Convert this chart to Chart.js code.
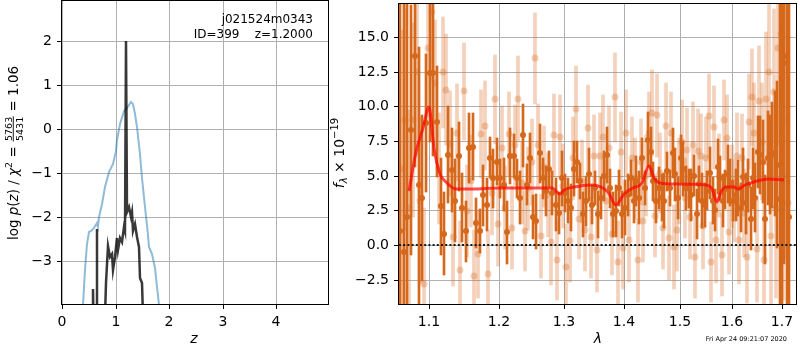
<!DOCTYPE html>
<html>
<head>
<meta charset="utf-8">
<script src="https://cdn.jsdelivr.net/npm/chart.js@4.4.0/dist/chart.umd.min.js"></script>
<style>
body { margin: 0; background: #fff; width: 800px; height: 350px; overflow: hidden; position: relative; }
#left { position: absolute; left: 0; top: 0; }
#right { position: absolute; left: 330px; top: 0; }
</style>
</head>
<body>
<canvas id="left" width="330" height="350"></canvas>
<canvas id="right" width="470" height="350"></canvas>
<script>
// ---- left panel: redshift PDF ----
const zTicks = [0, 1, 2, 3, 4];
const pTicks = [-3, -2, -1, 0, 1, 2];
const zRange = [0, 4.97];
const pRange = [-3.97, 2.92];

const blueZ = [0.36, 0.39, 0.43, 0.47, 0.50, 0.55, 0.59, 0.65, 0.667, 0.70,
  0.74, 0.80, 0.87, 0.96, 1.0, 1.02, 1.08, 1.15, 1.21, 1.25,
  1.29, 1.32, 1.36, 1.40, 1.46, 1.50, 1.55, 1.60, 1.63, 1.69,
  1.73, 1.77, 1.81, 1.84];
const blueP = [-5, -4.0, -3.2, -2.6, -2.33, -2.3, -2.24, -2.13, -2.22, -2.0,
  -1.69, -1.31, -0.97, -0.78, -0.5, -0.25, 0.13, 0.43, 0.49, 0.55,
  0.62, 0.57, 0.35, 0.05, -0.55, -1.1, -1.77, -2.4, -2.67, -2.83,
  -3.15, -3.58, -4.0, -5];

const blackZ = [0.565, 0.575, 0.585, 0.595, 0.645, 0.654, 0.662, 0.79, 0.83, 0.866,
  0.897, 0.935, 0.96, 0.99, 1.03, 1.05, 1.08, 1.12, 1.15, 1.175,
  1.195, 1.212, 1.25, 1.28, 1.31, 1.33, 1.36, 1.40, 1.43, 1.46,
  1.495, 1.53];
const blackP = [-5, -5, -3.62, -5, -5, -2.26, -5, -5, -3.5, -2.64,
  -2.9, -2.83, -3.2, -2.9, -2.48, -2.75, -2.48, -2.56, -2.22, -2.3,
  2.0, -1.88, -1.77, -1.99, -1.88, -2.3, -2.14, -2.45, -2.67, -3.39,
  -3.5, -5];

const fieldName = 'j021524m0343';
const idLine = 'ID=399    z=1.2000';

// ---- right panel: spectrum ----
const lamTicks = [1.1, 1.2, 1.3, 1.4, 1.5, 1.6, 1.7];
const lamRange = [1.06, 1.7305];
const fluxRange = [-4.26, 17.38];

const darkWave = [1.061, 1.066, 1.071, 1.076, 1.081, 1.086, 1.091, 1.096, 1.101, 1.106,
  1.111, 1.116, 1.121, 1.126, 1.131, 1.136, 1.141, 1.146, 1.151, 1.156,
  1.161, 1.166, 1.171, 1.176, 1.181, 1.186, 1.191, 1.196, 1.201, 1.206,
  1.211, 1.216, 1.221, 1.226, 1.231, 1.236, 1.241, 1.246, 1.251, 1.256,
  1.261, 1.266, 1.271, 1.276, 1.281, 1.286, 1.291, 1.296, 1.301, 1.306,
  1.311, 1.316, 1.321, 1.326, 1.331, 1.336, 1.341, 1.346, 1.351, 1.356,
  1.361, 1.366, 1.371, 1.376, 1.381, 1.386, 1.391, 1.396, 1.401, 1.406,
  1.411, 1.416, 1.421, 1.426, 1.431, 1.436, 1.441, 1.446, 1.451, 1.456,
  1.461, 1.466, 1.471, 1.476, 1.481, 1.486, 1.491, 1.496, 1.501, 1.506,
  1.511, 1.516, 1.521, 1.526, 1.531, 1.536, 1.541, 1.546, 1.551, 1.556,
  1.561, 1.566, 1.571, 1.576, 1.581, 1.586, 1.591, 1.596, 1.601, 1.606,
  1.611, 1.616, 1.621, 1.626, 1.631, 1.636, 1.641, 1.646, 1.651, 1.656,
  1.661, 1.666, 1.671, 1.676, 1.681, 1.686, 1.691, 1.696, 1.701, 1.706,
  1.711, 1.716];
const darkFlux = [1.0, -0.5, 2.0, 8.3, 13.6, 4.3, 3.4, 8.8, 12.4, 12.4,
  8.9, 2.8, 0.8, 6.5, 5.4, 3.2, 6.4, 2.7, 1.0, 7.0,
  7.1, 1.6, 1.0, 3.6, 2.9, 6.3, 4.8, 6.0, 4.8, 4.35,
  0.9, 6.4, 6.4, 4.8, 3.4, 7.9, 4.35, 6.25, 2.0, 1.7,
  6.6, 4.8, 3.9, 5.5, 3.75, 2.9, 2.3, 4.8, 3.75, 3.2,
  2.7, 5.5, 6.0, 4.6, 2.2, 3.2, 5.1, 2.9, 4.1, 2.2,
  3.4, 4.95, 6.5, 4.1, 2.2, 2.45, 4.1, 2.2, 2.7, 3.6,
  4.8, 3.2, 4.6, 3.4, 6.25, 4.1, 7.6, 6.7, 4.6, 3.2,
  4.1, 3.4, 3.2, 5.3, 4.1, 6.6, 5.1, 3.4, 6.25, 5.5,
  4.1, 4.1, 3.6, 5.0, 2.2, 4.4, 3.2, 2.9, 3.9, 5.2,
  3.2, 2.5, 5.65, 4.8, 3.2, 4.0, 5.1, 4.5, 3.2, 3.6,
  4.1, 2.7, 4.9, 3.0, 4.3, 1.9, 4.8, 3.4, 6.7, 6.5,
  6.0, 1.85, 6.25, 5.8, 6.5, 6.6, 5.8, 3.3, 9.0, 13.6,
  13.1, 2.0];
const darkErr = [25, 22, 20, 9, 8, 10, 6, 5, 5, 6,
  4, 3.5, 3, 3.5, 3, 3, 2.5, 2.5, 2.2, 2.5,
  2.4, 1.8, 1.6, 2.2, 1.9, 1.5, 2.1, 1.7, 1.4, 1.9,
  2.3, 2.0, 1.6, 1.4, 1.9, 2.3, 1.5, 1.8, 1.6, 2.0,
  2.1, 1.5, 1.8, 1.3, 1.6, 1.9, 1.5, 2.0, 1.4, 1.6,
  1.7, 2.0, 1.5, 1.3, 1.6, 1.8, 1.9, 1.4, 1.2, 1.7,
  1.5, 1.8, 2.0, 1.4, 1.6, 1.9, 1.3, 1.7, 2.0, 1.5,
  1.3, 1.6, 1.8, 1.9, 1.5, 1.2, 2.0, 1.8, 1.4, 1.6,
  1.5, 1.7, 2.0, 1.4, 1.3, 1.8, 1.9, 1.5, 1.7, 2.0,
  1.6, 1.4, 1.9, 1.5, 1.8, 1.3, 2.0, 1.6, 1.4, 1.9,
  1.7, 1.5, 2.0, 1.6, 1.9, 1.4, 2.1, 1.7, 1.5, 1.9,
  2.0, 1.8, 2.1, 2.2, 1.9, 2.3, 2.2, 2.5, 2.6, 2.8,
  3.0, 3.2, 3.4, 3.6, 3.8, 4.5, 6, 18, 20, 15,
  18, 22];

const lightWave = [1.0635, 1.0685, 1.0735, 1.0785, 1.0835, 1.0885, 1.0935, 1.0985, 1.1035, 1.1085,
  1.1135, 1.1185, 1.1235, 1.1285, 1.1335, 1.1385, 1.1435, 1.1485, 1.1535, 1.1585,
  1.1635, 1.1685, 1.1735, 1.1785, 1.1835, 1.1885, 1.1935, 1.1985, 1.2035, 1.2085,
  1.2135, 1.2185, 1.2235, 1.2285, 1.2335, 1.2385, 1.2435, 1.2485, 1.2535, 1.2585,
  1.2635, 1.2685, 1.2735, 1.2785, 1.2835, 1.2885, 1.2935, 1.2985, 1.3035, 1.3085,
  1.3135, 1.3185, 1.3235, 1.3285, 1.3335, 1.3385, 1.3435, 1.3485, 1.3535, 1.3585,
  1.3635, 1.3685, 1.3735, 1.3785, 1.3835, 1.3885, 1.3935, 1.3985, 1.4035, 1.4085,
  1.4135, 1.4185, 1.4235, 1.4285, 1.4335, 1.4385, 1.4435, 1.4485, 1.4535, 1.4585,
  1.4635, 1.4685, 1.4735, 1.4785, 1.4835, 1.4885, 1.4935, 1.4985, 1.5035, 1.5085,
  1.5135, 1.5185, 1.5235, 1.5285, 1.5335, 1.5385, 1.5435, 1.5485, 1.5535, 1.5585,
  1.5635, 1.5685, 1.5735, 1.5785, 1.5835, 1.5885, 1.5935, 1.5985, 1.6035, 1.6085,
  1.6135, 1.6185, 1.6235, 1.6285, 1.6335, 1.6385, 1.6435, 1.6485, 1.6535, 1.6585,
  1.6635, 1.6685, 1.6735, 1.6785, 1.6835, 1.6885, 1.6935, 1.6985, 1.7035, 1.7085,
  1.7135];
const lightFlux = [5.5, 9.0, 2.7, 9.0, 12.45, 3.2, -2.85, 14.2, 16.8, 11.7,
  5.5, 12.45, 11.2, 7.3, 0.55, 8.1, -1.8, 11.1, 2.45, 4.6,
  -2.25, -0.65, 8.0, 8.6, -2.1, 3.75, 10.5, 1.5, 7.0, 2.7,
  8.0, 1.25, 7.2, 10.5, 4.5, 1.0, 4.1, 6.0, 13.45, 7.2,
  0.65, 5.65, 3.6, 0.2, 7.9, -1.1, 7.8, 4.25, -1.6, 0.25,
  6.25, 9.8, 1.85, 4.6, 1.1, 8.45, 0.55, 6.4, -0.4, 6.4,
  7.8, 3.2, 7.0, 0.8, 10.65, -1.25, 6.7, -0.2, 8.05, 0.35,
  6.25, 4.8, -1.1, 6.0, 1.75, 5.0, 8.05, 9.5, 2.1, 9.35,
  5.2, 1.25, 8.6, 0.5, 8.1, -0.15, 1.1, 4.6, 7.45, 3.4,
  6.85, 2.0, 7.2, -0.9, 6.8, 6.45, 1.4, 6.25, 9.3, -1.25,
  8.5, 0.35, 5.0, -0.7, 9.0, 7.75, 0.9, 4.2, 3.2, 6.4,
  0.35, 6.25, 2.3, -0.9, 8.9, 10.65, 8.05, -0.3, 10.35, 7.45,
  -1.1, 10.55, 12.45, 0.65, 11.0, 2.7, 14.2, 15.25, 5.0, 9.0,
  3.0];
const lightErr = [10, 8, 7, 7, 6, 6, 5.5, 5, 5, 4.5,
  4, 4, 4, 3.8, 3.5, 3.5, 3.5, 3.5, 3.3, 3.3,
  3.3, 3.2, 3.2, 3.2, 3.2, 3.0, 3.2, 3.0, 3.0, 3.0,
  3.0, 3.0, 2.9, 3.1, 3.0, 2.9, 3.0, 3.1, 3.3, 3.0,
  3.0, 2.9, 3.0, 3.1, 3.0, 2.9, 3.0, 3.0, 3.1, 2.9,
  3.0, 3.1, 2.9, 3.0, 3.0, 3.1, 2.9, 3.0, 3.0, 3.1,
  3.0, 2.9, 3.0, 3.0, 3.2, 3.0, 2.9, 3.0, 3.1, 3.0,
  3.0, 2.9, 3.0, 3.1, 3.0, 2.9, 3.0, 3.1, 3.0, 3.0,
  2.9, 3.0, 3.1, 3.0, 2.9, 3.0, 3.0, 3.1, 3.0, 2.9,
  3.0, 3.0, 3.1, 2.9, 3.0, 3.0, 3.1, 3.0, 3.0, 2.9,
  3.0, 3.1, 3.0, 3.0, 2.9, 3.1, 3.0, 3.0, 3.0, 3.1,
  3.2, 3.2, 3.2, 3.3, 3.4, 3.5, 3.6, 3.8, 4.0, 4.2,
  4.5, 4.8, 5, 5.5, 6, 6.5, 7, 8, 9, 10,
  12];

const modelWave = [1.073, 1.083, 1.092, 1.100, 1.1067, 1.115, 1.1215, 1.137, 1.16, 1.2,
  1.25, 1.28, 1.2935, 1.30, 1.315, 1.345, 1.36, 1.372, 1.3863, 1.40,
  1.415, 1.43, 1.4431, 1.452, 1.4625, 1.49, 1.549, 1.56, 1.5692, 1.578,
  1.588, 1.603, 1.611, 1.625, 1.6495, 1.671, 1.7054];
const modelFlux = [3.9, 6.7, 8.4, 9.95, 7.0, 5.1, 4.6, 4.07, 4.05, 4.1,
  4.1, 4.1, 3.7, 3.95, 4.2, 4.3, 4.2, 3.8, 2.9, 3.7,
  4.1, 4.5, 5.66, 4.8, 4.5, 4.4, 4.35, 4.0, 3.1, 3.8,
  4.2, 4.2, 4.0, 4.3, 4.6, 4.75, 4.7];

const stamp = 'Fri Apr 24 09:21:07 2020';

const FONT = '"DejaVu Sans"';
const DARK = '#d6681c';
const LIGHT = 'rgba(214,104,28,0.3)';

Chart.defaults.font.family = FONT;
Chart.defaults.font.size = 14;
Chart.defaults.color = '#000';

const minus = v => (v < 0 ? '\u2212' + Math.abs(v) : String(v));

function gridOpts() {
    return { color: '#b0b0b0', lineWidth: 1, tickColor: '#000', tickLength: 5, tickWidth: 1, offset: false };
}

// box round the plot area, like matplotlib spines
const frame = {
    id: 'frame',
    afterDraw(chart) {
        const a = chart.chartArea, c = chart.ctx;
        c.save();
        c.strokeStyle = '#000';
        c.lineWidth = 1;
        c.strokeRect(Math.round(a.left) - 0.5, Math.round(a.top) - 0.5,
            Math.round(a.right - a.left) + 1, Math.round(a.bottom - a.top) + 1);
        c.restore();
    }
};

// draws a row of text pieces rotated by -90 degrees, centered at (cx, cy)
function drawRotated(c, runs, cx, cy) {
    let total = 0;
    runs.forEach(r => {
        c.font = r.font;
        r.w = r.frac ? Math.max(c.measureText(r.frac[0]).width, c.measureText(r.frac[1]).width) + 2
                     : c.measureText(r.t).width;
        total += r.w;
    });
    c.save();
    c.translate(cx, cy);
    c.rotate(-Math.PI / 2);
    c.fillStyle = '#000';
    c.textBaseline = 'alphabetic';
    let x = -total / 2;
    runs.forEach(r => {
        c.font = r.font;
        if (r.frac) {
            c.textAlign = 'center';
            c.fillText(r.frac[0], x + r.w / 2, -6.5);
            c.fillText(r.frac[1], x + r.w / 2, 5);
            c.fillRect(x + 0.5, -5.2, r.w - 1, 0.9);
        } else {
            c.textAlign = 'left';
            c.fillText(r.t, x, r.dy || 0);
        }
        x += r.w;
    });
    c.restore();
}

const leftText = {
    id: 'leftText',
    afterDraw(chart) {
        const c = chart.ctx;
        c.save();
        c.fillStyle = '#000';
        c.font = '12px ' + FONT;
        c.textAlign = 'right';
        c.textBaseline = 'middle';
        c.fillText(fieldName, 313, 20);
        c.fillText(idLine, 313, 35);
        c.font = 'italic 14px ' + FONT;
        c.textAlign = 'center';
        c.fillText('z', 194, 339);
        c.restore();
        const n = '13.5px ' + FONT, it = 'italic 13.5px ' + FONT;
        drawRotated(c, [
            { t: 'log ', font: n }, { t: 'p', font: it }, { t: '(', font: n }, { t: 'z', font: it },
            { t: ') / ', font: n }, { t: '\u03c7', font: it }, { t: '2', font: '9.5px ' + FONT, dy: -6 },
            { t: ' = ', font: n }, { frac: ['5763', '5431'], font: '9.5px ' + FONT }, { t: ' = 1.06', font: n }
        ], 18, 153);
    }
};

const rightText = {
    id: 'rightText',
    afterDraw(chart) {
        const c = chart.ctx;
        c.save();
        c.fillStyle = '#000';
        c.font = 'italic 14px ' + FONT;
        c.textAlign = 'center';
        c.textBaseline = 'middle';
        c.fillText('\u03bb', 268, 339);
        c.font = '6.5px ' + FONT;
        c.textAlign = 'right';
        c.fillText(stamp, 457, 339);
        c.restore();
        drawRotated(c, [
            { t: 'f', font: 'italic 14px ' + FONT }, { t: '\u03bb', font: 'italic 10px ' + FONT, dy: 3 },
            { t: ' \u00d7 10', font: '14px ' + FONT }, { t: '\u221219', font: '10px ' + FONT, dy: -6 }
        ], 14, 153);
    }
};

new Chart(document.getElementById('left'), {
    type: 'line',
    data: {
        datasets: [
            {
                data: blackZ.map((z, i) => ({ x: z, y: blackP[i] })),
                borderColor: 'rgba(0,0,0,0.78)', borderWidth: 2.5, pointRadius: 0, order: 0
            },
            {
                data: blueZ.map((z, i) => ({ x: z, y: blueP[i] })),
                borderColor: 'rgba(31,119,180,0.5)', borderWidth: 2, pointRadius: 0, order: 1
            }
        ]
    },
    options: {
        animation: false, responsive: false, devicePixelRatio: 1, events: [],
        layout: { padding: { left: 0, top: 1, right: 2, bottom: 0 } },
        plugins: { legend: { display: false }, tooltip: { enabled: false } },
        scales: {
            x: {
                type: 'linear', min: zRange[0], max: zRange[1], offset: false,
                alignToPixels: true, border: { display: false }, grid: gridOpts(),
                afterBuildTicks: s => { s.ticks = zTicks.map(v => ({ value: v })); },
                afterFit: s => { s.height = 46; s.paddingLeft = 0; s.paddingRight = 0; },
                ticks: { padding: 5, autoSkip: false, maxRotation: 0, callback: v => minus(v) }
            },
            y: {
                type: 'linear', min: pRange[0], max: pRange[1],
                alignToPixels: true, border: { display: false }, grid: gridOpts(),
                afterBuildTicks: s => { s.ticks = pTicks.map(v => ({ value: v })); },
                afterFit: s => { s.width = 62; s.paddingTop = 0; s.paddingBottom = 0; },
                ticks: { padding: 5, autoSkip: false, callback: v => minus(v) }
            }
        }
    },
    plugins: [frame, leftText]
});

const errBars = (w, f, e) => w.map((x, i) => ({ x: x, y: [f[i] - e[i], f[i] + e[i]] }));
const pts = (w, f) => w.map((x, i) => ({ x: x, y: f[i] }));

new Chart(document.getElementById('right'), {
    type: 'scatter',
    data: {
        datasets: [
            {
                type: 'line', data: pts(modelWave, modelFlux), borderColor: 'rgba(255,0,0,0.7)',
                borderWidth: 3, pointRadius: 0, cubicInterpolationMode: 'monotone', order: 0
            },
            {
                type: 'line', data: [{ x: lamRange[0], y: 0 }, { x: lamRange[1], y: 0 }],
                borderColor: '#1a1a1a', borderWidth: 2, borderDash: [2, 2.2], pointRadius: 0, order: 1
            },
            {
                type: 'scatter', data: pts(darkWave, darkFlux), backgroundColor: DARK,
                borderWidth: 0, pointRadius: 3, order: 2
            },
            {
                type: 'bar', data: errBars(darkWave, darkFlux, darkErr), backgroundColor: DARK,
                barThickness: 2, grouped: false, borderWidth: 0, order: 3
            },
            {
                type: 'scatter', data: pts(lightWave, lightFlux), backgroundColor: LIGHT,
                borderWidth: 0, pointRadius: 3.5, order: 4
            },
            {
                type: 'bar', data: errBars(lightWave, lightFlux, lightErr), backgroundColor: LIGHT,
                barThickness: 3, grouped: false, borderWidth: 0, order: 5
            }
        ]
    },
    options: {
        animation: false, responsive: false, devicePixelRatio: 1, events: [],
        layout: { padding: { left: 0, top: 1, right: 1, bottom: 0 } },
        plugins: { legend: { display: false }, tooltip: { enabled: false } },
        scales: {
            x: {
                type: 'logarithmic', min: lamRange[0], max: lamRange[1], offset: false,
                alignToPixels: true, border: { display: false }, grid: gridOpts(),
                afterBuildTicks: s => { s.ticks = lamTicks.map(v => ({ value: v })); },
                afterFit: s => { s.height = 46; s.paddingLeft = 0; s.paddingRight = 0; },
                ticks: { padding: 5, autoSkip: false, maxRotation: 0, callback: v => Number(v).toFixed(1) }
            },
            y: {
                type: 'linear', min: fluxRange[0], max: fluxRange[1],
                alignToPixels: true, border: { display: false }, grid: gridOpts(),
                afterFit: s => { s.width = 69; s.paddingTop = 0; s.paddingBottom = 0; },
                ticks: {
                    stepSize: 2.5, includeBounds: false, padding: 5, autoSkip: false,
                    callback: v => (v < 0 ? '\u2212' + Math.abs(v).toFixed(1) : v.toFixed(1))
                }
            }
        }
    },
    plugins: [frame, rightText]
});
</script>
</body>
</html>
